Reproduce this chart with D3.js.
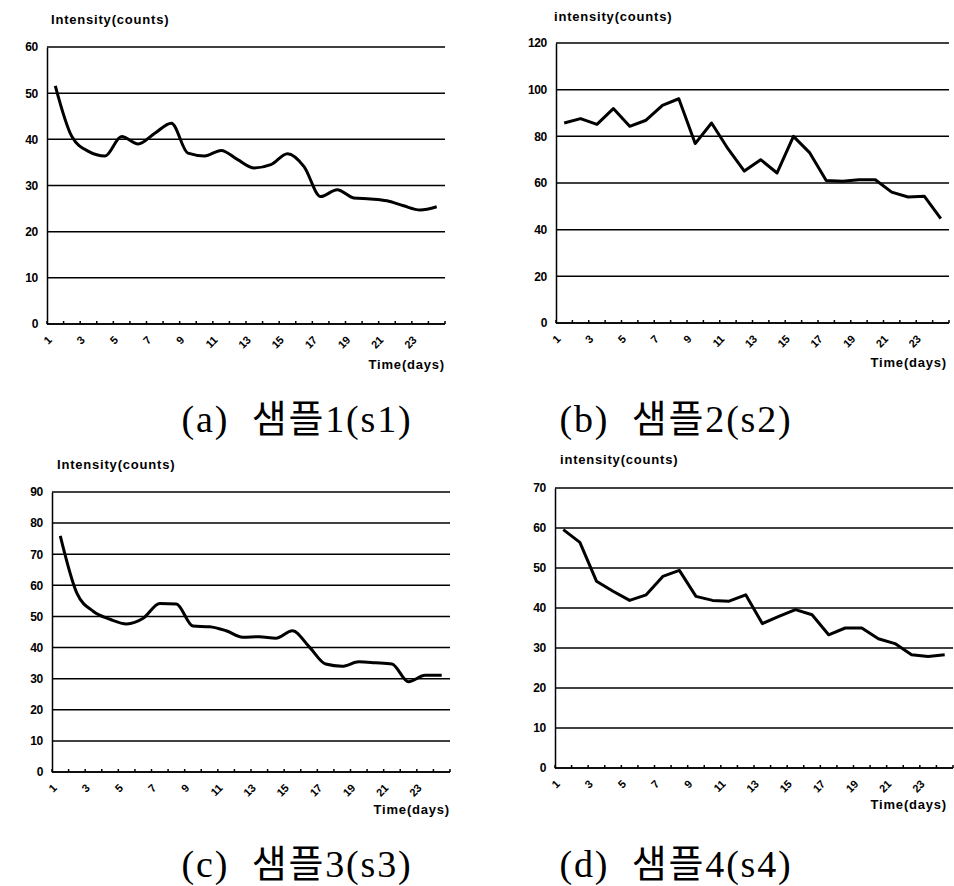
<!DOCTYPE html>
<html>
<head>
<meta charset="utf-8">
<script src="https://cdn.jsdelivr.net/npm/d3@7"></script>
<style>
  body { margin: 0; background: #fff; }
  .lab { font-family: "Liberation Sans", Arial, sans-serif; font-weight: bold; fill: #000; letter-spacing: -0.3px; }
  .ttl { font-family: "Liberation Sans", Arial, sans-serif; font-weight: bold; fill: #000; letter-spacing: 0.8px; }
  .cap { font-family: "Liberation Serif", "Noto Sans CJK KR", serif; fill: #000; white-space: pre; letter-spacing: 1.8px; }
</style>
</head>
<body>
<div id="chart"></div>
<script>
// days on the category axis
var days = [1, 2, 3, 4, 5, 6, 7, 8, 9, 10, 11, 12, 13, 14, 15, 16, 17, 18, 19, 20, 21, 22, 23, 24];
var xTickLabels = [1, 3, 5, 7, 9, 11, 13, 15, 17, 19, 21, 23];

// intensity per sample
var s1 = [51.6, 40.6, 37.4, 36.4, 40.6, 39.0, 41.3, 43.5, 37.0, 36.4, 37.6, 35.6,
          33.8, 34.5, 36.9, 34.1, 27.6, 29.1, 27.3, 27.1, 26.7, 25.6, 24.7, 25.4];
var s2 = [85.7, 87.6, 85.1, 91.9, 84.3, 86.9, 93.3, 96.1, 76.9, 85.7, 74.7, 65.1,
          70.0, 64.3, 80.0, 72.9, 61.1, 60.7, 61.4, 61.4, 56.1, 54.0, 54.3, 44.7];
var s3 = [75.9, 57.5, 51.6, 49.1, 47.6, 49.4, 54.2, 54.0, 46.9, 46.7, 45.4, 43.3,
          43.5, 43.0, 45.4, 40.3, 34.7, 34.0, 35.4, 35.1, 34.7, 29.0, 31.1, 31.1];
var s4 = [59.6, 56.4, 46.7, 44.2, 41.9, 43.3, 47.9, 49.4, 42.9, 41.9, 41.7, 43.3,
          36.1, 37.9, 39.6, 38.3, 33.3, 35.0, 35.0, 32.3, 31.1, 28.3, 27.9, 28.3];

// y tick values
var yTicks1 = [0, 10, 20, 30, 40, 50, 60];
var yTicks2 = [0, 20, 40, 60, 80, 100, 120];
var yTicks3 = [0, 10, 20, 30, 40, 50, 60, 70, 80, 90];
var yTicks4 = [0, 10, 20, 30, 40, 50, 60, 70];

var yTitles = ["Intensity(counts)", "intensity(counts)", "Intensity(counts)", "intensity(counts)"];
var captions = ["(a)  샘플1(s1)", "(b)  샘플2(s2)", "(c)  샘플3(s3)", "(d)  샘플4(s4)"];

var W = 954, H = 886;

var svg = d3.select("#chart")
    .append("svg")
    .attr("width", W)
    .attr("height", H);

// panel layout
var panels = [
  {values: s1, ticks: yTicks1, left: 47,  right: 445, top: 47,  bottom: 324, titleX: 51,  titleY: 24,  timeY: 369, capY: 432, smooth: true},
  {values: s2, ticks: yTicks2, left: 556, right: 949, top: 43,  bottom: 323, titleX: 554, titleY: 21,  timeY: 367, capY: 432, smooth: false},
  {values: s3, ticks: yTicks3, left: 52,  right: 450, top: 492, bottom: 772, titleX: 57,  titleY: 469, timeY: 814, capY: 877, smooth: true},
  {values: s4, ticks: yTicks4, left: 555, right: 953, top: 488, bottom: 768, titleX: 560, titleY: 464, timeY: 809, capY: 877, smooth: false}
];

panels.forEach(function(p, k) {
    var g = svg.append("g");

    var x = d3.scaleBand()
        .domain(days)
        .range([p.left, p.right]);

    var y = d3.scaleLinear()
        .domain([0, d3.max(p.ticks)])
        .range([p.bottom, p.top]);

    // gridlines
    g.append("g")
        .selectAll("line")
        .data(p.ticks)
        .join("line")
        .attr("x1", p.left)
        .attr("x2", p.right)
        .attr("y1", d => y(d))
        .attr("y2", d => y(d))
        .attr("stroke", "#000")
        .attr("stroke-width", 1.5);

    // y axis
    g.append("g")
        .attr("transform", `translate(${p.left},0)`)
        .call(d3.axisLeft(y).tickValues(p.ticks).tickSize(0).tickPadding(9))
        .call(a => a.select(".domain").attr("stroke-width", 1.5))
        .call(a => a.selectAll("text").attr("class", "lab").attr("font-size", "12px"));

    // x axis, small inner ticks between categories
    var edges = days.map(d => x(d)).concat([p.right]);
    g.append("line")
        .attr("x1", p.left).attr("x2", p.right)
        .attr("y1", p.bottom).attr("y2", p.bottom)
        .attr("stroke", "#000").attr("stroke-width", 1.5);
    g.append("g")
        .selectAll("line")
        .data(edges)
        .join("line")
        .attr("x1", d => d).attr("x2", d => d)
        .attr("y1", p.bottom).attr("y2", p.bottom - 3)
        .attr("stroke", "#000").attr("stroke-width", 1.5);

    g.append("g")
        .selectAll("text")
        .data(xTickLabels)
        .join("text")
        .attr("class", "lab")
        .attr("font-size", "11px")
        .attr("text-anchor", "end")
        .attr("transform", d => `translate(${x(d) + x.bandwidth() / 2 - 3},${p.bottom + 17}) rotate(-45)`)
        .text(d => d);

    // data line
    var line = d3.line()
        .x((d, i) => x(days[i]) + x.bandwidth() / 2)
        .y(d => y(d))
        .curve(p.smooth ? d3.curveMonotoneX : d3.curveLinear);

    g.append("path")
        .datum(p.values)
        .attr("fill", "none")
        .attr("stroke", "#000")
        .attr("stroke-width", 3)
        .attr("stroke-linejoin", "round")
        .attr("d", line);

    // titles
    g.append("text")
        .attr("class", "ttl")
        .attr("font-size", "13px")
        .attr("x", p.titleX)
        .attr("y", p.titleY)
        .text(yTitles[k]);

    g.append("text")
        .attr("class", "ttl")
        .attr("font-size", "13px")
        .attr("text-anchor", "end")
        .attr("x", Math.min(p.right, 947))
        .attr("y", p.timeY)
        .text("Time(days)");

    g.append("text")
        .attr("class", "cap")
        .attr("font-size", "38px")
        .attr("text-anchor", "middle")
        .attr("x", k % 2 === 0 ? 297 : 676)
        .attr("y", p.capY)
        .text(captions[k]);
});
</script>
</body>
</html>
